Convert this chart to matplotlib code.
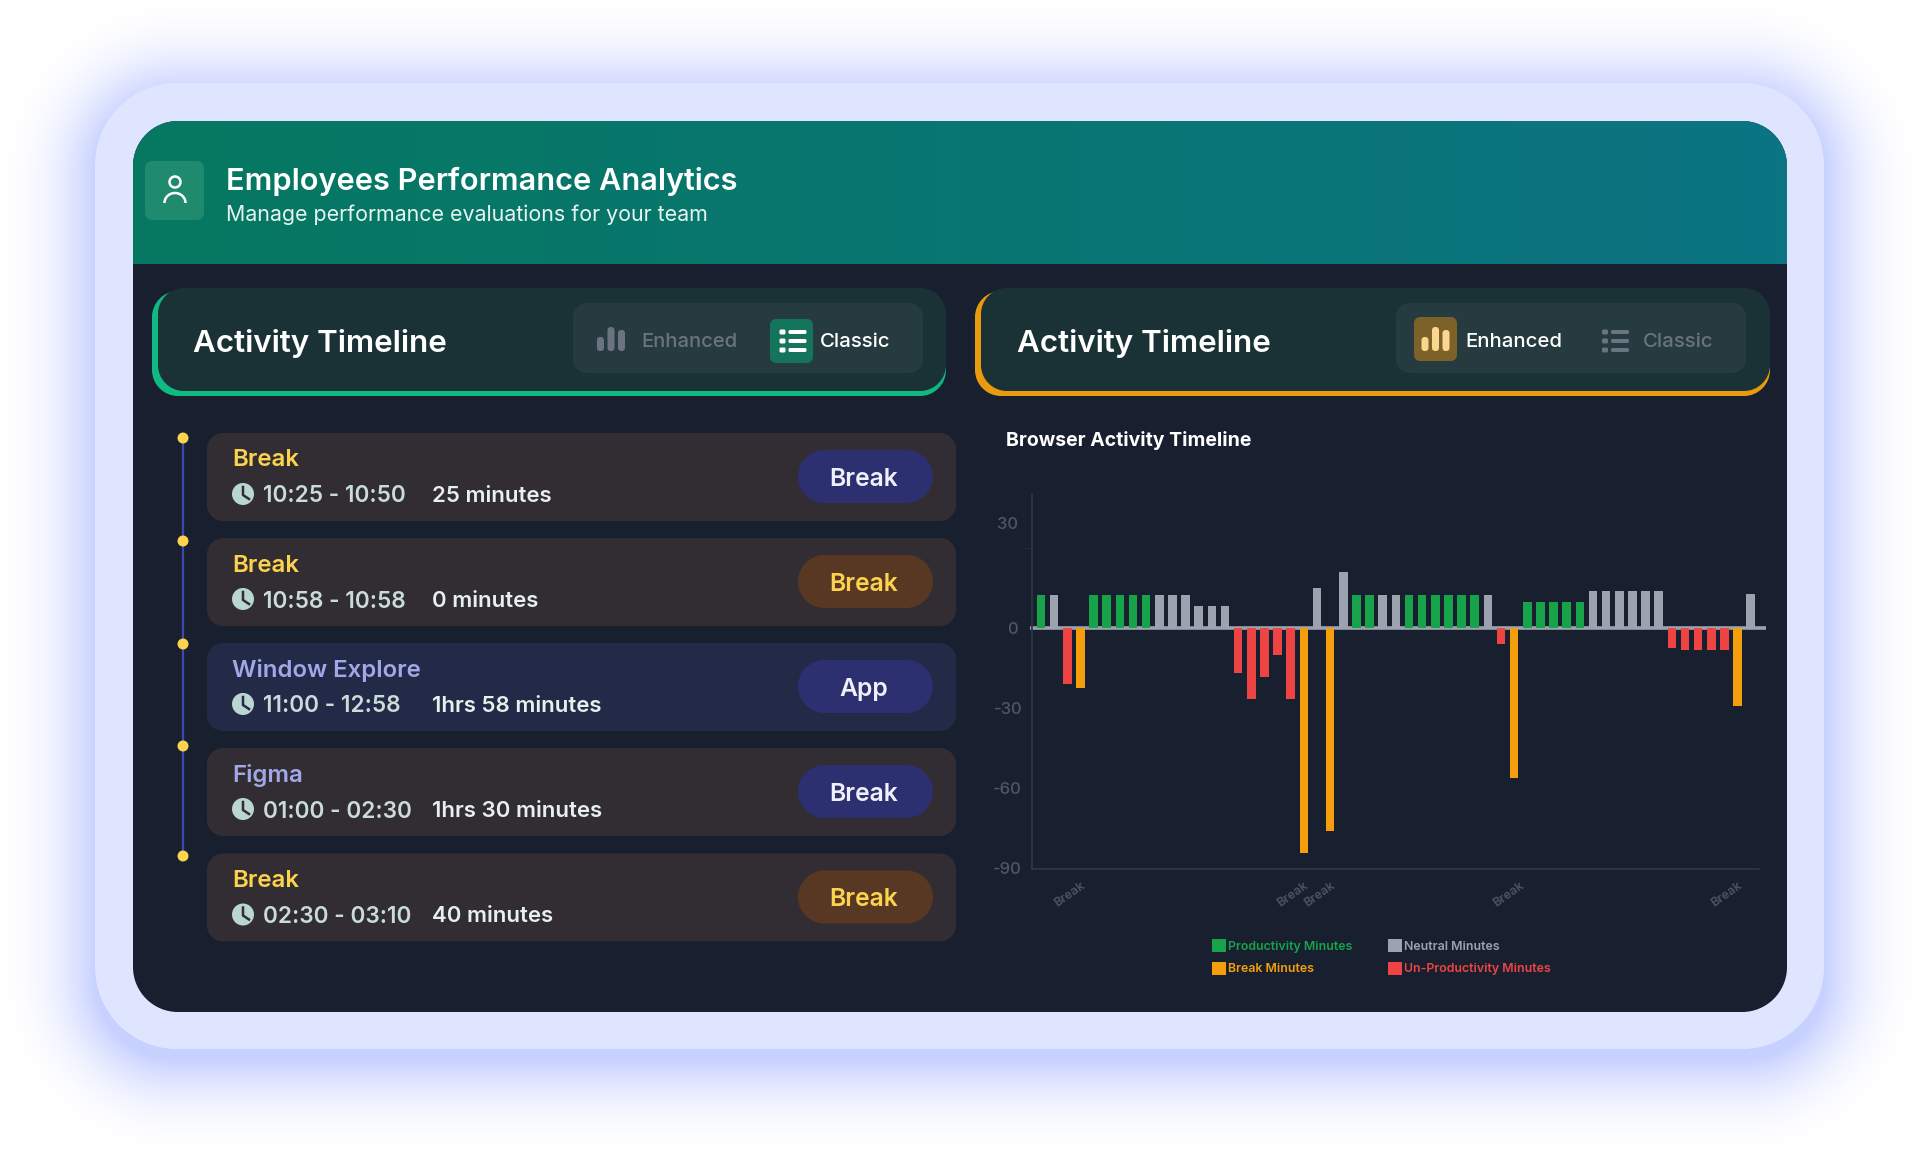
import numpy as np
import matplotlib
matplotlib.use('Agg')
import matplotlib.pyplot as plt
from matplotlib.patches import PathPatch, Circle, Arc, Patch
from matplotlib.path import Path
from matplotlib.transforms import ScaledTranslation

plt.rcParams['font.family'] = ['Inter', 'DejaVu Sans']

W, H = 1920, 1157

# left panel rows
row_titles = ['Break', 'Break', 'Window Explore', 'Figma', 'Break']
row_times = ['10:25 - 10:50', '10:58 - 10:58', '11:00 - 12:58', '01:00 - 02:30', '02:30 - 03:10']
row_durations = ['25 minutes', '0 minutes', '1hrs 58 minutes', '1hrs 30 minutes', '40 minutes']
row_badges = ['Break', 'Break', 'App', 'Break', 'Break']
row_title_kinds = ['break', 'break', 'app', 'app', 'break']
row_card_kinds = ['break', 'break', 'app', 'break', 'break']
row_badge_kinds = ['blue', 'brown', 'blue', 'blue', 'brown']

# chart data, P productivity, N neutral, U un-productivity, B break
bar_values = [12.5, 12.5, -20.8, -22.5, 12.5, 12.5, 12.5, 12.5, 12.5, 12.5, 12.5,
              12.5, 8.5, 8.5, 8.5, -16.6, -26.4, -18.3, -10, -26.4, -84.3, 15,
              -76, 21, 12.5, 12.5, 12.5, 12.5, 12.5, 12.5, 12.5, 12.5, 12.5, 12.5,
              12.5, -5.7, -56, 10, 10, 10, 10, 10, 14, 14, 14, 14, 14, 14,
              -7.3, -8, -8, -8, -8, -29, 13]
bar_kinds = list('PNUB' 'PPPPP' 'NNN' 'NNN' 'UUUUU' 'B' 'N' 'B' 'N' 'PP' 'NN' 'PPPPPP' 'N'
                 'U' 'B' 'PPPPP' 'NNNNNN' 'UUUUU' 'B' 'N')
break_labels = {3: 'Break', 20: 'Break', 22: 'Break', 36.4: 'Break', 53: 'Break'}
y_ticks = [-90, -60, -30, 0, 30]
y_label_pos = [-90, -60, -30, 0, 39.6]
y_labels = ['-90', '-60', '-30', '0', '30']
legend_names = {'P': 'Productivity Minutes', 'B': 'Break Minutes',
                'N': 'Neutral Minutes', 'U': 'Un-Productivity Minutes'}

bar_colors = {'P': '#16a34a', 'N': '#9ca3af', 'U': '#ef4444', 'B': '#f59e0b'}

DARK = '#181f2f'
FRAME = '#e0e5ff'

fig = plt.figure(figsize=(W / 100, H / 100), dpi=100, facecolor='white')
bg = fig.add_axes([0, 0, 1, 1])
bg.set_xlim(0, W)
bg.set_ylim(H, 0)
bg.axis('off')


def box(x0, y0, x1, y1, r, color, z=3):
    # rounded rectangle with real circular corners
    k = r * 0.4477
    verts = [(x0 + r, y0), (x1 - r, y0), (x1 - k, y0), (x1, y0 + k), (x1, y0 + r),
             (x1, y1 - r), (x1, y1 - k), (x1 - k, y1), (x1 - r, y1),
             (x0 + r, y1), (x0 + k, y1), (x0, y1 - k), (x0, y1 - r),
             (x0, y0 + r), (x0, y0 + k), (x0 + k, y0), (x0 + r, y0), (x0 + r, y0)]
    codes = [Path.MOVETO, Path.LINETO, Path.CURVE4, Path.CURVE4, Path.CURVE4,
             Path.LINETO, Path.CURVE4, Path.CURVE4, Path.CURVE4,
             Path.LINETO, Path.CURVE4, Path.CURVE4, Path.CURVE4,
             Path.LINETO, Path.CURVE4, Path.CURVE4, Path.CURVE4, Path.CLOSEPOLY]
    p = PathPatch(Path(verts, codes), fc=color, ec='none', zorder=z)
    bg.add_patch(p)
    return p


def txt(x, y, s, size, color, weight='normal', ha='left'):
    bg.text(x, y, s, fontsize=size, color=color, fontweight=weight, ha=ha, va='center_baseline', zorder=6)


def bar_icon(x, color):
    # three small bars, x is the centre of the middle one
    for dx, top in [(-10.5, 337), (0, 327), (10.5, 330)]:
        box(x + dx - 3.5, top, x + dx + 3.5, 351, 3, color, z=5)


def list_icon(x, color):
    # x is the left edge of the dots
    for y in [332, 341, 350]:
        box(x, y - 2.5, x + 6, y + 2.5, 1.5, color, z=5)
        box(x + 9, y - 2, x + 27, y + 2, 1.5, color, z=5)


# glow behind the frame, a bit stronger at the bottom
yy, xx = np.mgrid[0:H, 0:W]
cx, cy = (95 + 1824) / 2, (83 + 1049) / 2 + 10
qx = np.abs(xx - cx) - ((1824 - 95) / 2 - 80)
qy = np.abs(yy - cy) - ((1049 - 83) / 2 - 80)
dist = np.hypot(np.maximum(qx, 0), np.maximum(qy, 0)) + np.minimum(np.maximum(qx, qy), 0) - 80
glow = np.zeros((H, W, 4))
glow[..., :3] = np.array([0.68, 0.74, 1.0])
glow[..., 3] = 0.68 * np.clip(1 - np.maximum(dist, 0) / 100, 0, 1) ** 2.2
bg.imshow(glow, extent=(0, W, H, 0), aspect='auto', zorder=0)
bg.set_xlim(0, W)
bg.set_ylim(H, 0)

box(95, 83, 1824, 1049, 82, FRAME, z=1)
card = box(133, 121, 1787, 1012, 45, DARK, z=1)

# header gradient clipped to the card corners
ramp = np.linspace(0, 1, 256)[None, :]
c0, c1 = np.array([6, 120, 96]) / 255, np.array([12, 116, 131]) / 255
header = c0 + (c1 - c0) * ramp[..., None]
im = bg.imshow(header, extent=(133, 1787, 264, 121), aspect='auto', zorder=2)
im.set_clip_path(card)
bg.set_xlim(0, W)
bg.set_ylim(H, 0)

box(145, 161, 204, 220, 7, '#1f8a6e')
bg.add_patch(Circle((175, 182), 5.5, fc='none', ec='white', lw=1.8, zorder=4))
bg.add_patch(Arc((175, 203), 21, 20, theta1=180, theta2=360, ec='white', lw=1.8, zorder=4))
txt(225.5, 178, 'Employees Performance Analytics', 22.1, 'white', 'semibold')
txt(225.5, 213, 'Manage performance evaluations for your team', 15.4, '#e6f4f1')

# the two panel headers
for x0, x1, accent in [(152, 946, '#10b981'), (975, 1770, '#ea9a0e')]:
    box(x0, 291, x1, 396, 26, accent)
    box(x0 + 6, 288, x1, 391, 26, '#1a3236')

box(573, 303, 923, 373, 14, '#263b40', z=4)
box(1396, 303, 1746, 373, 14, '#263b40', z=4)
box(770, 319, 813, 363, 6, '#14755c', z=5)
box(1414, 317, 1457, 361, 6, '#7c6128', z=5)

bar_icon(611, '#6b7280')
list_icon(779.5, 'white')
bar_icon(1435.5, '#fbd68f')
list_icon(1602, '#6b7280')

txt(193, 340, 'Activity Timeline', 22.6, 'white', 'semibold')
txt(1017, 340, 'Activity Timeline', 22.6, 'white', 'semibold')
txt(641, 340, 'Enhanced', 14.5, '#6b7280', 'medium')
txt(819.5, 340, 'Classic', 14.7, 'white', 'medium')
txt(1465.5, 340, 'Enhanced', 14.6, 'white', 'medium')
txt(1643, 340, 'Classic', 14.7, '#6b7280', 'medium')

# timeline
row_tops = [433, 538, 643, 748, 853.5]
dot_ys = [438, 541, 644, 746, 856]
bg.plot([183, 183], [dot_ys[0], dot_ys[-1]], color='#3f46b0', lw=1.6, zorder=3)
for y in dot_ys:
    bg.add_patch(Circle((183, y), 5.5, fc='#fcd34d', ec='none', zorder=4))

card_colors = {'break': '#322c33', 'app': '#232a47'}
title_colors = {'break': '#fcd34d', 'app': '#a0a8e8'}
badge_colors = {'blue': '#2c2f70', 'brown': '#583823'}
badge_text = {'blue': '#f0f0f8', 'brown': '#fcd34d'}

for i, top in enumerate(row_tops):
    box(207, top, 956, top + 88, 16, card_colors[row_card_kinds[i]])
    box(798, top + 17, 933, top + 70, 26.5, badge_colors[row_badge_kinds[i]], z=4)
    bg.add_patch(Circle((243, top + 61), 11, fc='#b9d6d0', ec='none', zorder=4))
    bg.plot([243, 243, 249], [top + 54, top + 62, top + 66], color=card_colors[row_card_kinds[i]], lw=1.8, zorder=5)
    txt(232, top + 25, row_titles[i], 17.3, title_colors[row_title_kinds[i]], 'semibold')
    txt(263, top + 61, row_times[i], 16.3, '#c9dcd9', 'semibold')
    txt(432, top + 61, row_durations[i], 16, '#e8f0ee', 'semibold')
    txt(864, top + 44, row_badges[i], 17.8, badge_text[row_badge_kinds[i]], 'semibold', ha='center')

txt(1006, 439, 'Browser Activity Timeline', 14, 'white', 'bold')

# chart
ax_left, ax_right, ax_top, ax_bottom = 1032, 1759, 494, 868.5
ax = fig.add_axes([ax_left / W, 1 - ax_bottom / H, (ax_right - ax_left) / W, (ax_bottom - ax_top) / H])
ax.patch.set_visible(False)
x = np.arange(len(bar_values))
ax.bar(x, bar_values, width=0.66, color=[bar_colors[k] for k in bar_kinds], zorder=3)
ax.plot([-0.82, 55.15], [0, 0], color='#9ca3af', lw=2.6, clip_on=False, solid_capstyle='butt', zorder=2)
ax.set_xlim(-0.685, 54.63)
ax.set_ylim(-90, 50.4)

for side in ['top', 'right']:
    ax.spines[side].set_visible(False)
for side in ['left', 'bottom']:
    ax.spines[side].set_color('#2e3646')
    ax.spines[side].set_linewidth(1.3)

ax.set_yticks(y_label_pos, labels=y_labels)
ax.set_yticks(y_ticks, minor=True)
ax.tick_params(axis='y', which='major', length=0, pad=10, labelsize=12, labelcolor='#4f5664')
ax.tick_params(axis='y', which='minor', length=6, width=0.7, color='#262d3c')
# the minus labels sit a little further right in the original
shift = ScaledTranslation(4 / 100, 0, fig.dpi_scale_trans)
for lab in ax.get_yticklabels():
    lab.set_fontweight('medium')
    if lab.get_text().startswith('-'):
        lab.set_transform(lab.get_transform() + shift)

ax.set_xticks(list(break_labels.keys()), labels=list(break_labels.values()))
ax.tick_params(axis='x', length=0, pad=8, labelsize=9, labelcolor='#4b5260')
for lab in ax.get_xticklabels():
    lab.set_rotation(35)
    lab.set_ha('right')
    lab.set_rotation_mode('anchor')
    lab.set_fontweight('semibold')

handles = [Patch(fc=bar_colors[k], ec='none', label=legend_names[k]) for k in 'PBNU']
leg = ax.legend(handles=handles, ncol=2, loc='upper left', bbox_to_anchor=(1212 / W, 1 - 939 / H),
                bbox_transform=fig.transFigure, frameon=False, fontsize=8.9, handlelength=1.1,
                handleheight=1.24, handletextpad=0.2, columnspacing=2.9, labelspacing=0.72,
                borderpad=0, borderaxespad=0,
                labelcolor=[bar_colors[k] for k in 'PBNU'])
for t in leg.get_texts():
    t.set_fontweight('semibold')

fig.savefig('out.png', dpi=100)
